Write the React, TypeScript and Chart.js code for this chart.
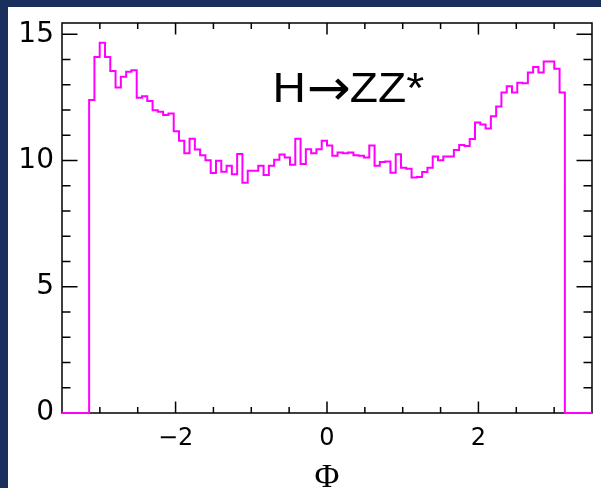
import React, { useEffect, useRef } from "react";
import { Chart, registerables } from "chart.js";

Chart.register(...registerables);

// Histogram of Phi for H -> ZZ*, 90 bins between -pi and pi
const BIN_VALUES: number[] = [
  12.40, 14.10, 14.67, 14.10, 13.55, 12.89, 13.32, 13.52, 13.58, 12.49,
  12.55, 12.36, 11.99, 11.93, 11.81, 11.86, 11.16, 10.79, 10.29, 10.86,
  10.44, 10.21, 10.01, 9.51, 9.99, 9.56, 9.79, 9.46, 10.26, 9.12,
  9.60, 9.60, 9.79, 9.43, 9.79, 10.03, 10.24, 10.12, 9.83, 10.86,
  9.86, 10.45, 10.29, 10.45, 10.79, 10.60, 10.19, 10.32, 10.29, 10.32,
  10.21, 10.19, 10.12, 10.60, 9.79, 9.94, 9.96, 9.52, 10.25, 9.72,
  9.68, 9.33, 9.35, 9.55, 9.72, 10.16, 10.01, 10.16, 10.16, 10.42,
  10.62, 10.58, 10.85, 11.51, 11.43, 11.27, 11.76, 12.14, 12.70, 12.94,
  12.70, 13.08, 13.06, 13.49, 13.71, 13.49, 13.92, 13.92, 13.64, 12.70,
];
const HIST_MIN = -Math.PI;
const HIST_MAX = Math.PI;

const X_MIN = -3.5;
const X_MAX = 3.5;
const Y_MIN = 0;
const Y_MAX = 15.45;
const X_TICKS: number[] = [-2, 0, 2];
const Y_TICKS: number[] = [0, 5, 10, 15];
const X_MINOR_STEP = 0.5;
const Y_MINOR_STEP = 1;

const LABEL_PARTS: string[] = ["H", "\u2192", "ZZ*"];
const PLOT_LABEL_AT = { x: -0.72, y: 12.34 };
const X_TITLE = "\u03A6";

const NAVY = "rgb(27,47,94)";
const MAGENTA = "rgb(255,0,255)";

function buildPoints() {
  const n = BIN_VALUES.length;
  const w = (HIST_MAX - HIST_MIN) / n;
  const pts: { x: number; y: number }[] = [{ x: X_MIN, y: 0 }];
  BIN_VALUES.forEach((v, i) => pts.push({ x: HIST_MIN + i * w, y: v }));
  pts.push({ x: HIST_MAX, y: 0 });
  pts.push({ x: X_MAX, y: 0 });
  return pts;
}

const framePlugin = {
  id: "rootFrame",
  beforeDatasetsDraw(chart: any) {
    const { ctx, chartArea } = chart;
    const xs = chart.scales.x;
    const ys = chart.scales.y;
    const { left, right, top, bottom } = chartArea;
    ctx.save();
    ctx.strokeStyle = "#000";
    ctx.lineWidth = 1.5;
    ctx.strokeRect(left, top, right - left, bottom - top);
    ctx.beginPath();
    for (let k = Math.ceil(X_MIN / X_MINOR_STEP); k <= Math.floor(X_MAX / X_MINOR_STEP); k++) {
      const v = k * X_MINOR_STEP;
      const px = xs.getPixelForValue(v);
      if (px <= left + 1 || px >= right - 1) continue;
      const len = X_TICKS.includes(v) ? 11.5 : 6;
      ctx.moveTo(px, bottom);
      ctx.lineTo(px, bottom - len);
      ctx.moveTo(px, top);
      ctx.lineTo(px, top + len);
    }
    for (let k = Math.ceil(Y_MIN / Y_MINOR_STEP); k <= Math.floor(Y_MAX / Y_MINOR_STEP); k++) {
      const v = k * Y_MINOR_STEP;
      const py = ys.getPixelForValue(v);
      if (py >= bottom - 1 || py <= top + 1) continue;
      const len = Y_TICKS.includes(v) ? 15.5 : 8.5;
      ctx.moveTo(left, py);
      ctx.lineTo(left + len, py);
      ctx.moveTo(right, py);
      ctx.lineTo(right - len, py);
    }
    ctx.stroke();
    ctx.restore();
  },
  afterDatasetsDraw(chart: any) {
    const { ctx } = chart;
    const xs = chart.scales.x;
    const ys = chart.scales.y;
    let px = xs.getPixelForValue(PLOT_LABEL_AT.x);
    const py = ys.getPixelForValue(PLOT_LABEL_AT.y);
    ctx.save();
    ctx.fillStyle = "#000";
    ctx.textAlign = "left";
    ctx.textBaseline = "alphabetic";
    const textFont = 'normal 400 42px "Liberation Sans", Arial, sans-serif';
    const arrowFont = 'normal 400 50px "DejaVu Sans", sans-serif';
    const stretch = 1.1;
    LABEL_PARTS.forEach((part, i) => {
      const isArrow = i === 1;
      ctx.font = isArrow ? arrowFont : textFont;
      const sx = isArrow ? 1.05 : stretch;
      const w = ctx.measureText(part).width * sx;
      ctx.save();
      ctx.translate(px, isArrow ? py + 3 : py);
      ctx.scale(sx, 1);
      ctx.fillText(part, 0, 0);
      ctx.restore();
      px += w + (isArrow ? -1 : 1);
    });
    ctx.restore();
  },
};

export default function App() {
  const ref = useRef<HTMLCanvasElement | null>(null);

  useEffect(() => {
    document.body.style.margin = "7px 0 0 8px";
    document.body.style.background = NAVY;
    document.documentElement.style.background = NAVY;
    const canvas = ref.current;
    if (!canvas) return;
    const chart = new Chart(canvas, {
      type: "line",
      data: {
        datasets: [
          {
            data: buildPoints(),
            borderColor: MAGENTA,
            borderWidth: 2,
            pointRadius: 0,
            stepped: true,
            fill: false,
            clip: 4,
          } as any,
        ],
      },
      plugins: [framePlugin],
      options: {
        animation: false,
        responsive: false,
        devicePixelRatio: 1,
        layout: { padding: { top: 16, right: 9, left: 0, bottom: 0 } },
        plugins: {
          legend: { display: false },
          tooltip: { enabled: false },
          title: { display: false },
        },
        scales: {
          x: {
            type: "linear",
            min: X_MIN,
            max: X_MAX,
            grid: { display: false, drawTicks: false },
            border: { display: false },
            afterBuildTicks: (scale: any) => {
              scale.ticks = X_TICKS.map((v) => ({ value: v }));
            },
            afterFit: (scale: any) => {
              scale.height = 75;
              scale.paddingLeft = 0;
              scale.paddingRight = 0;
            },
            ticks: {
              color: "#000",
              padding: 11,
              maxRotation: 0,
              font: { family: '"DejaVu Sans", sans-serif', size: 24 },
              callback: (v: any) => (Number(v) < 0 ? "\u2212" + Math.abs(Number(v)) : String(v)),
            },
            title: {
              display: true,
              text: X_TITLE,
              color: "#000",
              font: { family: '"Liberation Serif", serif', size: 34, lineHeight: 0.6 },
              padding: { top: 3, bottom: 0 },
            },
          },
          y: {
            type: "linear",
            min: Y_MIN,
            max: Y_MAX,
            grid: { display: false, drawTicks: false },
            border: { display: false },
            afterBuildTicks: (scale: any) => {
              scale.ticks = Y_TICKS.map((v) => ({ value: v }));
            },
            afterFit: (scale: any) => {
              scale.width = 54;
              scale.paddingTop = 0;
              scale.paddingBottom = 0;
            },
            ticks: {
              color: "#000",
              padding: 8,
              font: { family: '"DejaVu Sans", sans-serif', size: 28 },
            },
          },
        },
      } as any,
    });
    return () => chart.destroy();
  }, []);

  return (
    <canvas
      ref={ref}
      width={593}
      height={481}
      style={{ display: "block", background: "#fff", width: 593, height: 481 }}
    />
  );
}
